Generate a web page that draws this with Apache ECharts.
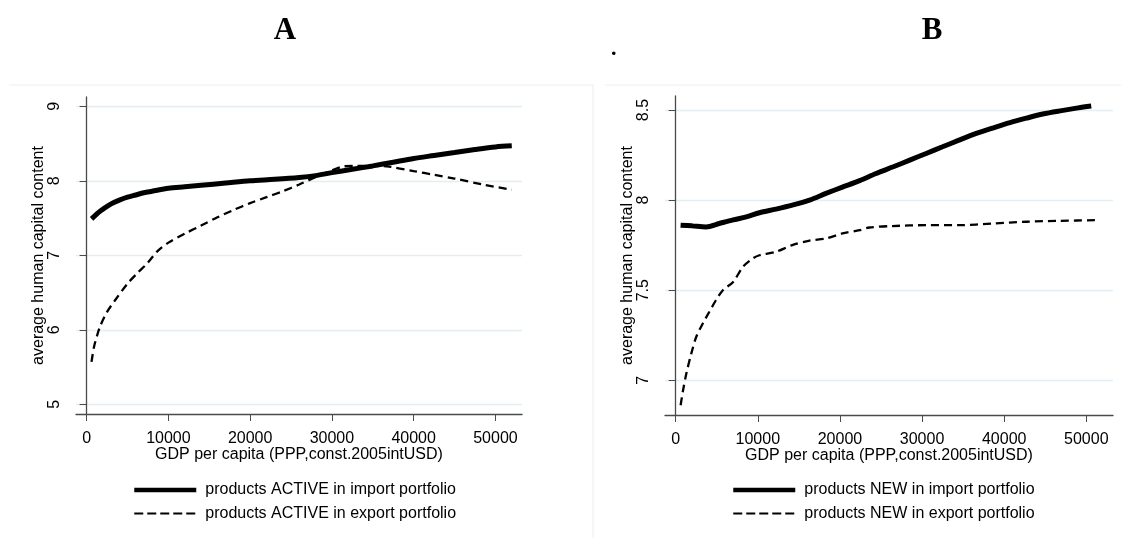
<!DOCTYPE html>
<html>
<head>
<meta charset="utf-8">
<script src="https://cdn.jsdelivr.net/npm/echarts@6/dist/echarts.min.js"></script>
<style>html,body{margin:0;padding:0;background:#fff}#c{width:1121px;height:538px}</style>
</head>
<body>
<div id="c"></div>
<script>
// Panel A
var aImportX = [600, 1000, 1500, 2000, 3000, 4000, 5000, 6000, 7000, 8000, 10000, 12000, 14000, 17000, 20000, 23000, 26000, 28000, 30000, 32500, 35000, 37500, 40000, 42500, 45000, 47500, 50000, 52000];
var aImportY = [7.49, 7.53, 7.58, 7.62, 7.69, 7.74, 7.78, 7.81, 7.84, 7.86, 7.90, 7.92, 7.94, 7.97, 8.00, 8.02, 8.045, 8.07, 8.11, 8.155, 8.20, 8.25, 8.30, 8.34, 8.38, 8.42, 8.455, 8.47];
var aExportX = [600, 900, 1300, 1700, 2500, 3500, 5000, 6200, 7400, 8700, 10000, 12000, 14000, 16000, 18000, 20000, 22000, 24000, 26000, 28000, 30000, 31500, 33000, 35000, 37000, 40000, 42500, 45000, 48500, 52000];
var aExportY = [5.57, 5.77, 5.93, 6.06, 6.24, 6.40, 6.62, 6.76, 6.89, 7.06, 7.17, 7.29, 7.40, 7.51, 7.61, 7.70, 7.78, 7.86, 7.95, 8.05, 8.14, 8.195, 8.20, 8.20, 8.19, 8.13, 8.08, 8.03, 7.95, 7.88];
// Panel B
var bImportX = [600, 2000, 3700, 5300, 7000, 8600, 10200, 12200, 14200, 16300, 18300, 20300, 22400, 24400, 26500, 28500, 30500, 32500, 34500, 36600, 38600, 40700, 42700, 44700, 47000, 49000, 50600];
var bImportY = [7.861, 7.857, 7.851, 7.87, 7.89, 7.907, 7.93, 7.95, 7.972, 8.0, 8.037, 8.072, 8.108, 8.148, 8.185, 8.222, 8.259, 8.296, 8.333, 8.37, 8.40, 8.43, 8.455, 8.478, 8.497, 8.512, 8.522];
var bExportX = [600, 900, 1300, 1900, 2500, 3300, 4100, 4900, 5750, 7000, 8200, 9400, 10200, 12200, 14200, 16300, 18300, 20300, 22400, 23600, 26400, 30500, 34500, 38600, 42700, 46700, 51600];
var bExportY = [6.861, 6.944, 7.037, 7.148, 7.24, 7.315, 7.38, 7.444, 7.50, 7.546, 7.63, 7.676, 7.694, 7.713, 7.75, 7.775, 7.787, 7.815, 7.833, 7.848, 7.856, 7.861, 7.861, 7.87, 7.88, 7.885, 7.889];

var xTicks = [0, 10000, 20000, 30000, 40000, 50000];
var aYTicks = [5, 6, 7, 8, 9];
var bYTicks = [7, 7.5, 8, 8.5];

var nameA1 = 'products ACTIVE in import portfolio';
var nameA2 = 'products ACTIVE in export portfolio';
var nameB1 = 'products NEW in import portfolio';
var nameB2 = 'products NEW in export portfolio';
var xName = 'GDP per capita (PPP,const.2005intUSD)';
var yName = 'average human capital content';

function zip(xs, ys) { return xs.map(function (x, i) { return [x, ys[i]]; }); }

var font = 'Liberation Sans, Arial, sans-serif';
var axisCol = '#4a4a4a';
var gridCol = '#e4edf1';
function plain(v) { return String(v); }

function xAxis(idx) {
  return {
    type: 'value', gridIndex: idx, min: -1300, max: 53250,
    name: xName, nameLocation: 'middle', nameGap: 33, nameMoveOverlap: false,
    nameTextStyle: { fontSize: 16, color: '#000', fontFamily: font },
    axisLine: { show: true, lineStyle: { color: axisCol, width: 1.3 } },
    axisTick: { show: true, length: 7, lineStyle: { color: axisCol }, customValues: xTicks },
    axisLabel: { fontSize: 16, color: '#000', fontFamily: font, margin: 17, customValues: xTicks, formatter: plain },
    splitLine: { show: false }
  };
}
function yAxis(idx, min, max, ticks) {
  return {
    type: 'value', gridIndex: idx, min: min, max: max,
    name: yName, nameLocation: 'middle', nameGap: 29, nameRotate: 90,
    nameTextStyle: { fontSize: 16, color: '#000', fontFamily: font },
    axisLine: { show: true, lineStyle: { color: axisCol, width: 1.3 } },
    axisTick: { show: true, length: 7, lineStyle: { color: axisCol }, customValues: ticks },
    axisLabel: { fontSize: 16, color: '#000', fontFamily: font, rotate: 90, margin: 13, customValues: ticks, formatter: plain },
    splitLine: { show: true, lineStyle: { color: gridCol, width: 1.3 } }
  };
}
function solid(name, xi, data) {
  return { type: 'line', name: name, xAxisIndex: xi, yAxisIndex: xi, data: data, symbol: 'none', showSymbol: false, smooth: 0.3,
    lineStyle: { color: '#000', width: 5 }, itemStyle: { color: '#000' }, silent: true, z: 3 };
}
function dashed(name, xi, data) {
  return { type: 'line', name: name, xAxisIndex: xi, yAxisIndex: xi, data: data, symbol: 'none', showSymbol: false, smooth: 0.3,
    lineStyle: { color: '#000', width: 2.3, type: [8, 5] }, itemStyle: { color: '#000' }, silent: true, z: 2 };
}
function legend(left, n1, n2) {
  return {
    orient: 'vertical', left: left, top: 482, itemWidth: 62, itemHeight: 14, itemGap: 7.5, padding: 0,
    selectedMode: false,
    itemStyle: { opacity: 0 },
    textStyle: { fontSize: 16, color: '#000', fontFamily: font, padding: [0, 0, 0, 4], lineHeight: 16 },
    data: [
      { name: n1, itemStyle: { opacity: 0 }, lineStyle: { color: '#000', width: 4.5, type: 'solid', opacity: 1 } },
      { name: n2, itemStyle: { opacity: 0 }, lineStyle: { color: '#000', width: 2, type: [9, 4], opacity: 1 } }
    ]
  };
}

var chart = echarts.init(document.getElementById('c'), null, { renderer: 'canvas' });
chart.setOption({
  animation: false,
  backgroundColor: '#fff',
  title: [
    { text: 'A', left: 280, top: 10, textAlign: 'center', textStyle: { fontFamily: 'Liberation Serif, Times New Roman, serif', fontWeight: 'bold', fontSize: 31, color: '#000' } },
    { text: 'B', left: 927, top: 10, textAlign: 'center', textStyle: { fontFamily: 'Liberation Serif, Times New Roman, serif', fontWeight: 'bold', fontSize: 31, color: '#000' } }
  ],
  graphic: [
    { type: 'line', shape: { x1: 9, y1: 85, x2: 593, y2: 85 }, style: { stroke: '#e9eef0', lineWidth: 1 }, silent: true },
    { type: 'line', shape: { x1: 593, y1: 85, x2: 593, y2: 538 }, style: { stroke: '#e9eef0', lineWidth: 1 }, silent: true },
    { type: 'line', shape: { x1: 605, y1: 85, x2: 1121, y2: 85 }, style: { stroke: '#e9eef0', lineWidth: 1 }, silent: true },
    { type: 'text', left: 611, top: 38, style: { text: '.', fontSize: 22, fontWeight: 'bold', fontFamily: 'Liberation Serif, serif', fill: '#000' }, silent: true }
  ],
  grid: [
    { left: 76, top: 97, width: 446, height: 317 },
    { left: 665, top: 96, width: 448, height: 319 }
  ],
  xAxis: [xAxis(0), xAxis(1)],
  yAxis: [yAxis(0, 4.87, 9.125, aYTicks), yAxis(1, 6.807, 8.578, bYTicks)],
  legend: [legend(132, nameA1, nameA2), legend(731, nameB1, nameB2)],
  series: [
    solid(nameA1, 0, zip(aImportX, aImportY)),
    dashed(nameA2, 0, zip(aExportX, aExportY)),
    solid(nameB1, 1, zip(bImportX, bImportY)),
    dashed(nameB2, 1, zip(bExportX, bExportY))
  ]
});
</script>
</body>
</html>
